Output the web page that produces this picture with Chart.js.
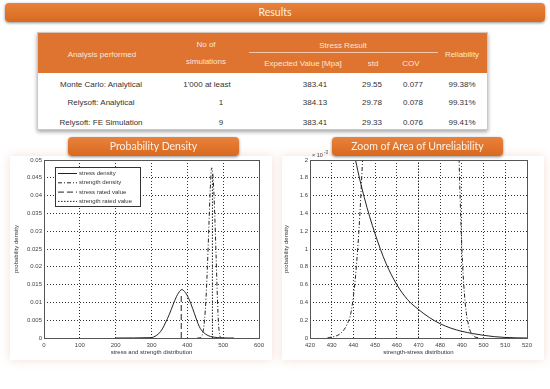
<!DOCTYPE html>
<html>
<head>
<meta charset="utf-8">
<script src="https://cdn.jsdelivr.net/npm/chart.js@4.4.1/dist/chart.umd.min.js"></script>
<style>
    body { margin: 0; width: 550px; height: 389px; background: #fff; position: relative; overflow: hidden; font-family: 'Liberation Sans', sans-serif; }
    .banner { position: absolute; z-index: 5; border-radius: 4px; color: #fdf0e6; text-align: center;
        background: linear-gradient(#e8823c, #d9691f); box-shadow: 0 1px 3px rgba(0,0,0,0.45);
        font-family: Lato, sans-serif; font-size: 10.5px; }
    #tabela { position: absolute; left: 37px; top: 32px; width: 451px; height: 98px; background: #fff;
        border: 1px solid #d9c4b8; box-sizing: border-box; box-shadow: 0 2px 4px rgba(0,0,0,0.35); }
    #cabecalho { position: absolute; left: 0; top: 0; width: 100%; height: 40px; background: #de7430; }
    .txt { position: absolute; transform: translate(-50%, -50%); white-space: nowrap; font-size: 8px; }
    .h { color: #fbe6d6; }
    .b { color: #333; }
    #linhaStress { position: absolute; left: 211px; top: 19px; width: 189px; height: 1px; background: #f3c9ad; }
    .sombra { position: absolute; box-shadow: 0 0 9px rgba(215,150,120,0.3); background: #fff; }
    canvas { position: absolute; }
</style>
</head>
<body>

<div class="banner" style="left:5px; top:3px; width:540px; height:19px; line-height:19px;">Results</div>

<div id="tabela">
    <div id="cabecalho"></div>
    <div id="linhaStress"></div>
</div>

<div class="banner" style="left:68px; top:137px; width:171px; height:19px; line-height:19px;">Probability Density</div>
<div class="banner" style="left:332px; top:137px; width:171px; height:19px; line-height:19px;">Zoom of Area of Unreliability</div>

<div class="sombra" style="left:10px; top:156px; width:262px; height:204px;"></div>
<div class="sombra" style="left:282px; top:156px; width:262px; height:204px;"></div>

<canvas id="graficoDensidade" width="275" height="210" style="left:0; top:150px;"></canvas>
<canvas id="graficoZoom" width="275" height="210" style="left:275px; top:150px;"></canvas>

<script>
// dados da tabela
var analises = ['Monte Carlo: Analytical', 'Relysoft: Analytical', 'Relysoft: FE Simulation']
var simulacoes = ["1'000 at least", '1', '9']
var valorEsperado = ['383.41', '384.13', '383.41']
var desvio = ['29.55', '29.78', '29.33']
var cov = ['0.077', '0.078', '0.076']
var confiabilidade = ['99.38%', '99.31%', '99.41%']

// curvas
var stressX = [200, 300, 310, 320, 330, 340, 350, 360, 370, 380, 385, 390, 400, 410, 420, 430, 436, 441, 445, 450, 455, 460, 465, 470, 475, 480, 485, 490, 495, 500, 505, 510, 515, 520, 530]
var stressY = [0, 0.0001, 0.0005, 0.0012, 0.0025, 0.0045, 0.0067, 0.0093, 0.0117, 0.0133, 0.0136, 0.0133, 0.0119, 0.0096, 0.0068, 0.0040, 0.0027, 0.0020, 0.00158, 0.00117, 0.00084, 0.00060, 0.00043, 0.00032, 0.00023, 0.00016, 0.00011, 0.000075, 0.00005, 0.00003, 0.000015, 0.000006, 0.000002, 0, 0]

var strengthX = [428, 434, 437, 439, 441, 443, 445, 448, 452, 456, 460, 464, 468, 472, 476, 480, 484, 487, 488.5, 490, 491.5, 493, 495, 498]
var strengthY = [0, 0.00005, 0.00015, 0.0003, 0.0007, 0.0014, 0.0025, 0.0050, 0.0110, 0.0200, 0.0310, 0.0420, 0.0478, 0.0450, 0.0360, 0.0240, 0.0110, 0.0040, 0.0022, 0.0010, 0.0004, 0.00015, 0.00003, 0]

var stressRatedX = [383, 383]
var stressRatedY = [0, 0.0122]
var strengthRatedX = [470, 470]
var strengthRatedY = [0, 0.046]

var legendLabels = ['stress density', 'strength density', 'stress rated value', 'strength rated value']

// eixos
var densTicks = [0, 0.005, 0.01, 0.015, 0.02, 0.025, 0.03, 0.035, 0.04, 0.045, 0.05]
var densTickLabels = ['0', '0.005', '0.01', '0.015', '0.02', '0.025', '0.03', '0.035', '0.04', '0.045', '0.05']
var distTicks = [0, 100, 200, 300, 400, 500, 600]
var zoomYTicks = [0, 0.0002, 0.0004, 0.0006, 0.0008, 0.001, 0.0012, 0.0014, 0.0016, 0.0018, 0.002]
var zoomYTickLabels = ['0', '0.2', '0.4', '0.6', '0.8', '1', '1.2', '1.4', '1.6', '1.8', '2']
var zoomXTicks = [420, 430, 440, 450, 460, 470, 480, 490, 500, 510, 520]

// monta tabela
var tabela = document.getElementById('tabela')
function put(texto, x, y, cls) {
    var d = document.createElement('div')
    d.className = 'txt ' + cls
    d.textContent = texto
    d.style.left = (x - 37) + 'px'
    d.style.top = (y - 32) + 'px'
    tabela.appendChild(d)
}
put('Analysis performed', 101, 53, 'h')
put('No of', 205, 43, 'h')
put('simulations', 205, 60, 'h')
put('Stress Result', 342, 44, 'h')
put('Expected Value [Mpa]', 302, 62, 'h')
put('std', 372, 62, 'h')
put('COV', 410, 62, 'h')
put('Reliability', 461, 53, 'h')
var linhasY = [83, 101, 121]
for (var i = 0; i < analises.length; i++) {
    var y = linhasY[i]
    put(analises[i], 100, y, 'b')
    put(simulacoes[i], i == 0 ? 206 : 220, y, 'b')
    put(valorEsperado[i], 314, y, 'b')
    put(desvio[i], 371, y, 'b')
    put(cov[i], 412, y, 'b')
    put(confiabilidade[i], 461, y, 'b')
}

function pontos(xs, ys) {
    return xs.map((x, i) => ({ x: x, y: ys[i] }))
}

var dashes = [[], [4, 2, 1, 2], [6, 3], [1.5, 1.5]]
var corLinha = '#222'

//moldura estilo matlab
var moldura = {
    id: 'moldura',
    afterDatasetsDraw(chart) {
        var a = chart.chartArea, ctx = chart.ctx
        ctx.save()
        ctx.strokeStyle = '#555'
        ctx.lineWidth = 1
        ctx.strokeRect(Math.round(a.left) + 0.5, Math.round(a.top) + 0.5, Math.round(a.right - a.left), Math.round(a.bottom - a.top))
        ctx.restore()
    }
}

var legenda = {
    id: 'legenda',
    afterDraw(chart) {
        var a = chart.chartArea, ctx = chart.ctx
        var x = a.left + 11, y = a.top + 7
        ctx.save()
        ctx.fillStyle = '#fff'
        ctx.fillRect(x, y, 85, 39)
        ctx.strokeStyle = '#333'
        ctx.lineWidth = 1
        ctx.strokeRect(x + 0.5, y + 0.5, 85, 39)
        ctx.font = '6px "Liberation Sans"'
        ctx.textBaseline = 'middle'
        legendLabels.forEach((l, i) => {
            var ly = y + 6.5 + i * 9.3
            ctx.setLineDash(dashes[i])
            ctx.strokeStyle = corLinha
            ctx.beginPath()
            ctx.moveTo(x + 3, ly)
            ctx.lineTo(x + 22, ly)
            ctx.stroke()
            ctx.setLineDash([])
            ctx.fillStyle = '#333'
            ctx.fillText(l, x + 24, ly)
        })
        ctx.restore()
    }
}

var expoente = {
    id: 'expoente',
    afterDraw(chart) {
        var a = chart.chartArea, ctx = chart.ctx
        ctx.save()
        ctx.fillStyle = '#444'
        ctx.font = '5.5px "Liberation Sans"'
        ctx.textBaseline = 'alphabetic'
        ctx.fillText('\u00d7 10', a.left + 2, a.top - 3)
        ctx.font = '4.5px "Liberation Sans"'
        ctx.fillText('-3', a.left + 14, a.top - 6)
        ctx.restore()
    }
}

function criaGrafico(id, cfg) {
    var ctx = document.getElementById(id).getContext('2d')
    var fonte = { family: 'Liberation Sans', size: 6 }
    var estilo = { borderColor: corLinha, backgroundColor: corLinha, borderWidth: 1, pointRadius: 0 }
    return new Chart(ctx, {
        type: 'line',
        data: {
            datasets: [
                Object.assign({ data: pontos(stressX, stressY), borderDash: dashes[0], cubicInterpolationMode: 'monotone' }, estilo),
                Object.assign({ data: pontos(strengthX, strengthY), borderDash: dashes[1], cubicInterpolationMode: 'monotone' }, estilo),
                Object.assign({ data: pontos(stressRatedX, stressRatedY), borderDash: dashes[2] }, estilo),
                Object.assign({ data: pontos(strengthRatedX, strengthRatedY), borderDash: dashes[3] }, estilo)
            ]
        },
        options: {
            responsive: false,
            animation: false,
            parsing: false,
            layout: { padding: { top: 10, right: cfg.padRight, left: 0, bottom: 0 } },
            plugins: { legend: { display: false }, tooltip: { enabled: false } },
            scales: {
                x: {
                    type: 'linear', min: cfg.xMin, max: cfg.xMax,
                    afterBuildTicks: s => { s.ticks = cfg.xTicks.map(v => ({ value: v })) },
                    afterFit: s => { s.height = 22 },
                    grid: { color: '#333', drawTicks: false },
                    border: { display: false, dash: [1, 2] },
                    ticks: { font: fonte, color: '#444', padding: 4, maxRotation: 0, callback: v => String(v) },
                    title: { display: true, text: cfg.xTitle, font: fonte, color: '#333', padding: { top: 2, bottom: 4 } }
                },
                y: {
                    type: 'linear', min: 0, max: cfg.yMax,
                    afterBuildTicks: s => { s.ticks = cfg.yTicks.map(v => ({ value: v })) },
                    afterFit: s => { s.width = cfg.yWidth },
                    grid: { color: '#333', drawTicks: false },
                    border: { display: false, dash: [1, 2] },
                    ticks: { font: fonte, color: '#444', padding: 2, callback: (v, i) => cfg.yLabels[i] },
                    title: { display: true, text: 'probability density', font: fonte, color: '#333', padding: { top: cfg.yTitlePad, bottom: 2 } }
                }
            }
        },
        plugins: cfg.plugins
    })
}

criaGrafico('graficoDensidade', {
    xMin: 0, xMax: 600, xTicks: distTicks, xTitle: 'stress and strength distribution',
    yMax: 0.05, yTicks: densTicks, yLabels: densTickLabels,
    yWidth: 44, yTitlePad: 13, padRight: 16,
    plugins: [moldura, legenda]
})

criaGrafico('graficoZoom', {
    xMin: 420, xMax: 520, xTicks: zoomXTicks, xTitle: 'strength-stress distribution',
    yMax: 0.002, yTicks: zoomYTicks, yLabels: zoomYTickLabels,
    yWidth: 35, yTitlePad: 8, padRight: 23,
    plugins: [moldura, expoente]
})
</script>
</body>
</html>
